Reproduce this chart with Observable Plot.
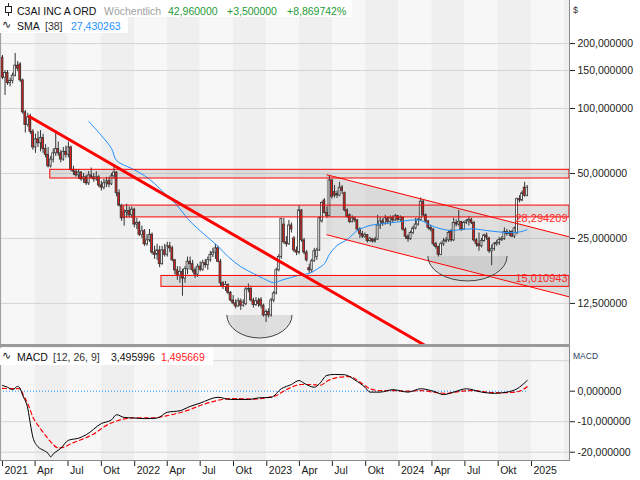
<!DOCTYPE html>
<html><head><meta charset="utf-8">
<script src="https://cdn.jsdelivr.net/npm/d3@7"></script>
<script src="https://cdn.jsdelivr.net/npm/@observablehq/plot@0.6"></script>
<style>
body{margin:0;background:#fff;font-family:"Liberation Sans",Arial,sans-serif;}
#wrap{position:relative;width:640px;height:480px;overflow:hidden;background:#fff;}
#wrap svg{position:absolute;left:0;}
.t{position:absolute;white-space:nowrap;font-size:10.5px;line-height:12px;}
.box{position:absolute;background:#fff;}
.ln{position:absolute;background:#8a8a8a;}
</style></head><body><div id="wrap"></div>
<script>
// ---- data ----
const firstWeek = "2021-01-01"; // weekly candles, one per week
const opens = [172,139,146,131,134,142,158,160,135,96, 84,91,78,66,72,69,73,65,61,54, 58,62,65,62,58,63,61,66,52,51, 49,50.5,47,48,45,49,48,47,48,44, 43,45,46,44.5,48.5,50.5,40.5,35.5,31,33, 33.5,32,34,29,29.5,26,27,23.5,24.5,26, 21.5,21,22,19,22,21,23,22.5,19.8,17.8, 16.8,17.5,16.3,18,19.5,19,17.8,17,18.5,17.9, 19.2,18.8,19.8,21,21.5,22.5,19.5,15.5,14.9,15.2, 14,12.9,12.5,12.1,12.8,12.2,12.4,14.5,14.6,12.9, 12.3,12.8,13,12.2,11,11.4,11,12.9,13.9,17.8, 20.5,29,24,23.5,28.7,25,22,21.5,33.7,24.5, 21.5,18.2,17.8,19.6,20.5,22,30,37.5,32.8,31.8, 46.4,41,39.5,39.5,43,40.5,33.7,32,29.8,31, 30.3,27.5,26.2,25.5,25.9,24.3,24.8,24.2,24.7,28.7, 30,29.3,31,29.8,31,30.3,31.7,30.5,31.2,27.5, 25.5,24.8,26.5,27.8,29,30.5,37,32,30,28, 27.5,23.5,22.8,21,23.5,24.2,24.5,27,24.5,29.5, 29,29.8,27.5,29.5,30,30.5,29.5,24.5,23.5,23, 24.3,25.8,25,21.8,22.3,23.5,23.8,24.6,24.8,26.8, 26.2,26.8,25.5,26.5,38,37.5,43,39.46];
const highs = [176,150,150,138,146,180,165,163,137,98, 95,94,80,76,78,79,76,68,66,60, 65,79,70,64,66,67,70,67,54,52, 52,51,50,49,51,53,50,51,49,46, 47,48,48,50,55,51,42,36,34,36, 35,35,34.5,31,30,28.5,27.5,26,27.5,26.5, 23,23.5,23,23,23.5,24,24,23,20,18.5, 18.5,18,18.5,20.5,20.5,19.8,18.3,19,19.5,19.8, 20,20.5,21.8,22.5,23.5,23,20,15.8,15.8,15.4, 14.2,13.6,13,13.2,13.1,13,14.8,15.4,15,13.2, 13.3,13.2,13.3,12.4,11.7,11.8,13.2,14.2,18.2,21, 31,31,25.5,30.3,29.5,25.5,22.8,35.5,34,25, 22,19,20,22.5,22.5,31.5,37,38.2,35,48.9, 47,44,41.5,45.5,44,41,34.3,32.5,31.8,31.5, 30.6,28,27,26.5,26,25.3,25,25.3,32,31.3, 30.8,32,31.5,31.8,31.8,32.3,32,31.8,31.5,28, 26,27,28.5,31,31,38.5,37.5,32.5,30.3,28.8, 27.8,24,23,24,25,25.2,27,27.5,31,30.5, 33.7,30,30,30.6,31.5,31,30,25,26.5,25, 26.2,26.5,25.3,23.3,24,24.5,25.3,25.5,28,27.5, 27.2,27.2,28.2,38.5,39.5,41.5,45.5,44];
const lows = [136,115,128,126,130,140,148,132,94,77, 82,76,64,62,66,63,62,59,53,53, 56,60,60,56,57,59,59,51,49,48, 47,46,45,44,44,47,45.5,46,43,41.5, 42,43,43,44,47,39,35,30,28.5,31, 31,31,28,27.5,25.5,25,23,23,24,21, 20,19.8,18.3,18.8,20.5,20.5,21.5,19.5,17,16, 15.5,13.5,15.5,17,17.8,17.3,16.3,16.5,17.5,17.6, 18.2,17.8,19.4,20.4,20,19.3,15,14.5,14.2,13.7, 12.7,12.3,11.8,12,11.6,12,12.2,14,12.7,11.9, 12.1,12,11.8,10.8,10.2,10.7,10.8,12.6,13.7,17.5, 20,23.5,22.8,23.2,26.5,21.5,20.8,21,24,21, 19.4,17.2,17.3,19.4,19.8,21.8,29.5,32.5,31,31.5, 38,38.5,38.3,39,40,33.2,31,29.3,29.5,29.6, 27,25,25,25,23.8,24,23.8,23.8,24.5,27.5, 28.5,28.8,29,28.5,29.5,30,30,30,27,24.8, 24,24.5,26,27.4,28.5,30,31.5,29.5,27.3,26.8, 23,22.3,20.5,20.8,23,23.8,24,24,24.2,28.3, 28.5,27,27.3,29,28.5,29,24,22.8,21.8,22.6, 24,24.5,21.3,18.7,21.8,23,23.2,24.2,24.5,25.6, 25.5,25.2,25,26,36.5,37,38.8,39];
const closes = [139,146,131,134,142,158,153,135,96,84, 91,78,66,72,69,73,65,61,54,58, 62,65,62,58,63,61,66,52,51,49, 50.5,47,48,45,49,48,47,48,44,43, 45,46,44.5,48.5,50.5,40.5,35.5,31,33,33.5, 32,34,29,29.5,26,27,23.5,24.5,26,21.5, 21,22,19,22,21,23,22.5,19.8,17.8,16.8, 17.5,16.3,18,19.5,19,17.8,17,18.5,17.9,19.2, 18.8,19.8,21,21.5,22.5,19.5,15.5,14.9,15.2,14, 12.9,12.5,12.1,12.8,12.2,12.6,14.5,14.6,12.9,12.3, 12.8,12.4,12.2,11,11.4,11,12.9,13.9,17.8,20.5, 30.8,24,23.5,28.7,27.5,22,21.5,33.7,24.5,21.5, 19.8,17.8,19.6,21.8,22,31,36.5,32.8,31.8,46.4, 39,39.5,40.2,43,41.5,33.7,31.5,29.8,31,30.3, 27.5,26.2,25.5,25.9,24.3,24.8,24.2,24.7,28.7,30, 29.3,31,29.8,31,30.3,31.7,30.5,31.2,27.5,25.5, 24.8,26.5,27.8,29,30.5,37,32,30,28,27.5, 23.5,22.8,21,23.5,24.2,24.5,26.5,24.5,29.5,29, 29.8,27.5,29.5,30,30.5,29.5,24.5,23.5,23,24.3, 25.8,25.2,21.8,22.3,23.5,23.8,24.6,24.8,26.8,26.2, 26.5,25.5,27.8,38,37.5,40.5,39.46,42.96];

// SMA [38] read at sample weeks
const smaWeek = [34,39,43,45,51,56,60,64,69,73,77,82,85,89,94,99,103,107,110,114,118,121,124,127,129,132,136,140,145,150,156,161,165,169,173,177,181,186,191,196,200,204,207];
const smaVal  = [87.1,75.0,65.3,57.4,52.7,48.9,44.9,40.4,35.5,30.9,27.8,24.7,23.0,20.6,18.5,17.2,16.3,15.6,16.0,16.5,17.0,17.2,18.0,19.1,21.1,23.2,24.7,27.2,28.7,29.3,29.8,30.4,30.3,28.7,27.7,27.2,27.5,27.7,27.2,26.8,26.6,26.8,27.43];

// MACD [12,26,9] read at sample weeks
const macdWeek = [0,2,4,6,7,8,10,11,12,14,16,18,19,20,23,26,30,33,39,43,45,48,52,56,61,65,70,74,78,85,90,97,101,106,110,114,117,119,123,125,128,131,135,139,143,145,149,154,160,165,170,174,178,183,189,194,199,203,207];
const macdVal  = [1.9,1.3,0.5,1.6,0.8,-1.4,-5.8,-10.7,-15.1,-18.2,-19.3,-20.4,-21.5,-20.6,-18.7,-16.1,-15.4,-14.3,-10.6,-9.4,-7.7,-8.6,-8.8,-9.0,-8.8,-6.9,-6.4,-5.0,-3.9,-2.0,-2.7,-2.7,-2.2,-2.0,0.8,2.2,3.5,2.6,1.3,2.4,5.2,5.5,5.4,3.7,1.3,-0.3,-0.3,0.5,-0.3,0.8,0,-1.1,-0.3,0.8,-0.3,-0.7,-0.3,0.8,3.5];
const sigWeek = [0,7,8,10,12,15,18,20,22,24,27,31,36,41,47,52,60,65,73,78,85,91,99,104,108,112,118,122,125,129,133,137,141,145,149,154,160,165,170,175,181,186,191,196,202,204,207];
const sigVal  = [0.9,0.8,-0.9,-4.1,-8.5,-12.3,-15.6,-17.5,-18.6,-18.4,-17.2,-15.9,-14.0,-11.2,-9.3,-8.7,-8.7,-8.0,-6.3,-4.7,-3.0,-2.4,-2.6,-2.2,-1.4,0.5,2.2,2.2,1.9,3.7,4.6,4.8,3.0,0.8,0.2,0.2,0,0.2,-0.3,-0.7,0,0.2,-0.3,-0.5,-0.3,0,1.5];

// drawings
const zoneStart  = ["2021-05-13","2021-12-02","2022-03-16"];
const zoneTop    = [52.0, 35.5, 16.76];
const zoneBottom = [47.4, 31.3, 14.92];
const channelStart = "2023-06-16";
const channelUpper = [49.3, 25.4];
const channelLower = [26.0, 13.4];
const channelLabels = [28.294209, 15.010943];
const trendDates = ["2021-03-16","2024-03-12"];
const trendVals  = [91.8, 8.0];
const cupLeft   = ["2022-09-14","2024-03-22"];
const cupRight  = ["2023-03-13","2024-10-27"];
const cupTop    = [11.0, 20.6];
const cupBottom = [8.6, 15.8];

const priceTicks = [12.5, 25, 50, 100, 150, 200];
const macdTicks = [0, -10, -20];
const macdGrid = [10, -10, -20];
const monthNames = {0: null, 3: "Apr", 6: "Jul", 9: "Okt"};

// ---- build ----
const xDomain = [new Date("2020-12-26T11:30:00Z"), new Date("2025-04-15T21:36:00Z")];
const dates = closes.map((_, i) => d3.utcDay.offset(new Date(firstWeek + "T00:00:00Z"), 7 * i));
const candles = dates.map((d, i) => ({date: d, o: opens[i], h: highs[i], l: lows[i], c: closes[i]}));
const half = 2.6 * 864e5;
const sma = smaWeek.map((w, k) => ({date: dates[w], v: smaVal[k]}));
const macd = macdWeek.map((w, k) => ({date: dates[w], v: macdVal[k]}));
const sig = sigWeek.map((w, k) => ({date: dates[w], v: sigVal[k]}));
const zones = zoneStart.map((s, k) => ({start: new Date(s), end: xDomain[1], top: zoneTop[k], bottom: zoneBottom[k]}));
const channel = [{date: new Date(channelStart), upper: channelUpper[0], lower: channelLower[0]},
                 {date: xDomain[1], upper: channelUpper[1], lower: channelLower[1]}];
const trend = trendDates.map((d, k) => ({date: new Date(d), v: trendVals[k]}));
const cups = cupLeft.map((l, k) => ({x1: new Date(l), x2: new Date(cupRight[k]), top: cupTop[k], bottom: cupBottom[k]}));
const labels = channelLabels.map(v => ({date: xDomain[1], v, t: d3.format(".6f")(v).replace(".", ",")}));
const zeroLine = [{x1: xDomain[0], x2: dates[dates.length - 1], y: 0}];

const quarters = d3.utcMonth.every(3).range(new Date("2020-10-01T00:00:00Z"), new Date("2025-07-01T00:00:00Z"));
const bands = quarters.map(q => ({
  x1: q < xDomain[0] ? xDomain[0] : q,
  x2: d3.utcMonth.offset(q, 3) > xDomain[1] ? xDomain[1] : d3.utcMonth.offset(q, 3),
  fill: (q.getUTCMonth() === 3 || q.getUTCMonth() === 9) ? "#efefef" : "#f7f7f7"
})).filter(b => b.x1 < b.x2);
const qTicks = d3.utcMonth.every(3).range(new Date("2021-01-01T00:00:00Z"), new Date("2025-04-01T00:00:00Z"));
const qLabel = d => d.getUTCMonth() === 0 ? String(d.getUTCFullYear()) : monthNames[d.getUTCMonth()];
const fmt = d => d3.format(".6f")(d).replace(".", ",").replace("\u2212", "-");

function cupMark(fillOnly) {
  return (index, scales) => {
    const g = d3.create("svg:g");
    for (const c of cups) {
      const x1 = scales.x(c.x1), x2 = scales.x(c.x2), yt = scales.y(c.top), yb = scales.y(c.bottom);
      const rx = (x2 - x1) / 2, ry = yb - yt;
      const arc = `M${x1},${yt} A${rx},${ry} 0 0 0 ${x2},${yt}`;
      if (fillOnly) g.append("path").attr("d", arc + "Z").attr("fill", "#a8a8a8").attr("fill-opacity", 0.3);
      else g.append("path").attr("d", arc).attr("fill", "none").attr("stroke", "#444").attr("stroke-width", 1);
    }
    return g.node();
  };
}

const style = {background: "transparent", fontFamily: "Liberation Sans, Arial, sans-serif", fontSize: "10.5px", color: "#222", overflow: "visible"};

const main = Plot.plot({
  width: 640, height: 345, marginLeft: 0, marginRight: 71, marginTop: 0, marginBottom: 0,
  style,
  x: {type: "utc", domain: xDomain, axis: null},
  y: {type: "log", domain: [7.98, 316.6], axis: "right", ticks: priceTicks, tickFormat: fmt, tickSize: 5, tickPadding: 3, label: null},
  marks: [
    Plot.rect(bands, {x1: "x1", x2: "x2", fill: "fill"}),
    Plot.ruleY(priceTicks, {stroke: "#d4d4d4"}),
    Plot.rect(zones, {x1: "start", x2: "end", y1: "bottom", y2: "top", fill: "#a8a8a8", fillOpacity: 0.3}),
    Plot.areaY(channel, {x: "date", y1: "lower", y2: "upper", fill: "#a8a8a8", fillOpacity: 0.3}),
    cupMark(true),
    Plot.ruleX(candles, {x: "date", y1: "l", y2: "h", stroke: "#333", strokeWidth: 1}),
    Plot.rect(candles, {x1: d => new Date(+d.date - half), x2: d => new Date(+d.date + half), y1: "o", y2: "c",
      fill: d => d.c >= d.o ? "#ffffff" : "#e3211b", stroke: "#333", strokeWidth: 0.8}),
    Plot.line(sma, {x: "date", y: "v", stroke: "#1e90ff", strokeWidth: 1, curve: "catmull-rom"}),
    Plot.rect(zones, {x1: "start", x2: "end", y1: "bottom", y2: "top", fill: "none", stroke: "#ff0000", strokeWidth: 1}),
    Plot.line(channel, {x: "date", y: "upper", stroke: "#ff0000", strokeWidth: 1}),
    Plot.line(channel, {x: "date", y: "lower", stroke: "#ff0000", strokeWidth: 1}),
    Plot.line(trend, {x: "date", y: "v", stroke: "#ff0000", strokeWidth: 3}),
    cupMark(false),
    Plot.text(labels, {x: "date", y: "v", text: "t", textAnchor: "end", dx: -2, dy: -8, fill: "#ff2a2a", fontSize: 11})
  ]
});

const lower = Plot.plot({
  width: 640, height: 135, marginLeft: 0, marginRight: 71, marginTop: 2, marginBottom: 20,
  style,
  x: {type: "utc", domain: xDomain, axis: "bottom", ticks: qTicks, tickSize: 6, tickFormat: () => "", label: null},
  y: {domain: [-22.72, 14.33], axis: "right", ticks: macdTicks, tickFormat: fmt, tickSize: 5, tickPadding: 3, label: null},
  marks: [
    Plot.rect(bands, {x1: "x1", x2: "x2", fill: "fill"}),
    Plot.ruleY(macdGrid, {stroke: "#d4d4d4"}),
    Plot.ruleY(zeroLine, {y: "y", x1: "x1", x2: "x2", stroke: "#1e90ff", strokeDasharray: "1,2"}),
    Plot.line(sig, {x: "date", y: "v", stroke: "#ff0000", strokeWidth: 1.2, strokeDasharray: "4,3", curve: "monotone-x"}),
    Plot.line(macd, {x: "date", y: "v", stroke: "#000", strokeWidth: 1, curve: "monotone-x"}),
    Plot.text(qTicks, {x: d => d, text: qLabel, frameAnchor: "bottom", dy: 13, dx: 2, textAnchor: "start", fill: "#1a1a1a", fontSize: 10.5})
  ]
});

const wrap = document.getElementById("wrap");
main.style.top = "0px"; lower.style.top = "345px";
wrap.appendChild(main); wrap.appendChild(lower);

function add(html) { wrap.insertAdjacentHTML("beforeend", html); }
// frame lines
add(`<div class="ln" style="left:0;top:0;width:1px;height:460px;background:#a0a0a0"></div>`);
add(`<div class="ln" style="left:569px;top:0;width:1px;height:461px"></div>`);
add(`<div class="ln" style="left:0;top:344px;width:570px;height:3px;background:#9a9a9a"></div>`);
add(`<div class="ln" style="left:0;top:460px;width:570px;height:1px"></div>`);
// legend boxes
add(`<div class="box" style="left:0;top:0;width:352px;height:17px"></div>`);
add(`<div class="box" style="left:0;top:17px;width:128px;height:16px"></div>`);
add(`<div class="box" style="left:0;top:348px;width:213px;height:17px"></div>`);
add(`<svg style="position:absolute;left:3px;top:3px" width="12" height="13"><line x1="5.5" y1="0" x2="5.5" y2="13" stroke="#222"/><rect x="2.5" y="3.5" width="6" height="6" fill="#fff" stroke="#222"/></svg>`);
add(`<div class="t" style="left:17px;top:5px;color:#111">C3AI INC A ORD</div>`);
add(`<div class="t" style="left:104px;top:5px;color:#a0a0a0">Wöchentlich</div>`);
add(`<div class="t" style="left:168px;top:5px;color:#1f9a36">42,960000</div>`);
add(`<div class="t" style="left:227px;top:5px;color:#1f9a36">+3,500000</div>`);
add(`<div class="t" style="left:287px;top:5px;color:#1f9a36">+8,869742%</div>`);
add(`<div class="t" style="left:2px;top:19px;color:#222;font-family:'DejaVu Sans';font-size:11px">∿</div>`);
add(`<div class="t" style="left:17px;top:20px;color:#111">SMA</div>`);
add(`<div class="t" style="left:45px;top:20px;color:#333">[38]</div>`);
add(`<div class="t" style="left:71px;top:20px;color:#1e90ff">27,430263</div>`);
add(`<div class="t" style="left:2px;top:350px;color:#222;font-family:'DejaVu Sans';font-size:11px">∿</div>`);
add(`<div class="t" style="left:17px;top:351px;color:#111">MACD</div>`);
add(`<div class="t" style="left:53px;top:351px;color:#333">[12, 26, 9]</div>`);
add(`<div class="t" style="left:111px;top:351px;color:#111">3,495996</div>`);
add(`<div class="t" style="left:161px;top:351px;color:#ff1a1a">1,495669</div>`);
add(`<div class="t" style="left:573px;top:4px;font-size:9px;color:#333">$</div>`);
add(`<div class="t" style="left:573px;top:350px;font-size:8.5px;color:#2b3b5c">MACD</div>`);
</script></body></html>
